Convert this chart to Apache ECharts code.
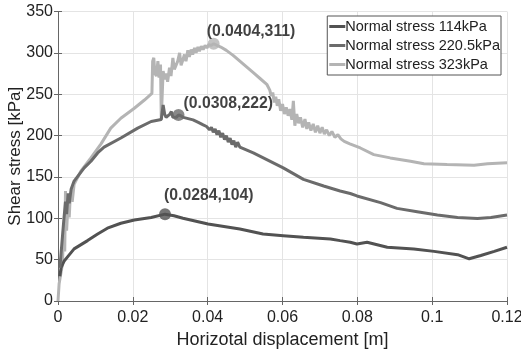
<!DOCTYPE html>
<html><head><meta charset="utf-8">
<script src="https://cdn.jsdelivr.net/npm/echarts@6/dist/echarts.min.js"></script>
<style>html,body{margin:0;padding:0;background:#fff}#c{width:521px;height:357px}</style>
</head><body><div id="c"></div>
<script>
var seriesNames = ['Normal stress 114kPa', 'Normal stress 220.5kPa', 'Normal stress 323kPa'];
var xTicks = [0, 0.02, 0.04, 0.06, 0.08, 0.1, 0.12];
var yTicks = [0, 50, 100, 150, 200, 250, 300, 350];

var x114 = [0.0005,0.0008,0.0016,0.0025,0.0043,0.0079,0.0106,0.0132,0.0168,0.0204,0.0249,0.0286,0.031,0.0334,0.0401,0.0486,0.0548,0.0602,0.0656,0.0728,0.0754,0.0781,0.0799,0.0826,0.088,0.0951,0.1005,0.1068,0.1099,0.113,0.1166,0.12];
var y114 = [30,40,48,53,63,73,81,88,94,98,101,105,103,100,93,87,81,79,77,75,73,71,69,71,65,63,60,56,51,55,60,65];

var x220 = [0.0005,0.0015,0.002,0.0023,0.0027,0.003,0.0035,0.0043,0.007,0.0088,0.0106,0.0123,0.0168,0.0213,0.0249,0.0276,0.0281,0.0285,0.0289,0.0294,0.0299,0.0303,0.0307,0.0311,0.0316,0.0322,0.0328,0.0335,0.0361,0.0375,0.0388,0.0397,0.0405,0.041,0.0415,0.042,0.0425,0.043,0.0435,0.044,0.0445,0.045,0.0455,0.046,0.0465,0.047,0.0475,0.048,0.0486,0.049,0.0522,0.0558,0.0602,0.0656,0.071,0.0754,0.0781,0.0799,0.0862,0.0906,0.096,0.1014,0.1068,0.1121,0.1157,0.12];
var y220 = [40,95,120,105,130,118,135,145,161,169,179,186,197,209,217,219.5,237,226,222,221,226,229,222,220,222,225,224,222,219,216,213,211,207,210,204,208,201,206,198,203,195,200,192,197,189,194,186,192,186,184,179,171,161,147,139,133,130,127,119,112,108,104,101,99.8,101,104];

var x323 = [0,0.0003,0.0012,0.0015,0.0018,0.002,0.0023,0.0027,0.003,0.0033,0.0038,0.0043,0.0061,0.0088,0.0115,0.0141,0.0168,0.0204,0.0231,0.0251,0.0253,0.0256,0.0259,0.0263,0.0267,0.027,0.0274,0.0276,0.0278,0.0281,0.0285,0.0289,0.0293,0.0298,0.0302,0.0307,0.0311,0.0316,0.032,0.0325,0.0329,0.0334,0.0338,0.0342,0.0347,0.0351,0.0356,0.036,0.0365,0.0369,0.0374,0.0378,0.0383,0.0388,0.0393,0.0398,0.0403,0.0409,0.0416,0.0425,0.0435,0.045,0.0468,0.0486,0.0504,0.0522,0.054,0.0558,0.0566,0.057,0.0574,0.0578,0.0582,0.0586,0.059,0.0595,0.06,0.0605,0.061,0.0615,0.062,0.0625,0.0629,0.0633,0.0638,0.0643,0.0648,0.0654,0.066,0.0665,0.067,0.0676,0.0682,0.0688,0.0694,0.07,0.0706,0.0712,0.0718,0.0725,0.0732,0.074,0.0748,0.0756,0.0765,0.078,0.0808,0.0844,0.0888,0.0942,0.0978,0.104,0.1112,0.1148,0.12];
var y323 = [0,21,45,90,60,133,85,121,101,129,120,141,157,173,190,209,221,233,243,251,290,294,275,272,290,270,286,220,222,278,268,275,265,282,272,294,280,278,290,300,285,292,298,290,303,295,304,298,306,300,307,302,308,304,309,306,310,309,311,309,307,303,297,290,283,276,269,262,255,248,252,240,247,236,244,230,238,226,234,224,232,219,242,212,226,215,222,210,220,208,216,206,214,204,212,203,210,202,207,200,205,198,201,196,193,190,185,177,173,169,166,165,164,166,167];

var peakX = [0.0286, 0.0322, 0.0416];
var peakY = [105, 225, 311];
var peakText = ['(0.0284,104)', '(0.0308,222)', '(0.0404,311)'];

var colors = ['#525252', '#6b6b6b', '#b4b4b4'];
var labelOffsets = [[-1, -19], [5, -11], [-7, -12]];
var FONT = '"Liberation Sans", Arial, sans-serif';

function zip(xs, ys) { return xs.map(function (v, i) { return [v, ys[i]]; }); }
var lineData = [zip(x114, y114), zip(x220, y220), zip(x323, y323)];

var series = [];
for (var i = 0; i < 3; i++) {
  series.push({
    name: seriesNames[i], type: 'line', data: lineData[i], showSymbol: false, symbol: 'none',
    lineStyle: { color: colors[i], width: 3 }, itemStyle: { color: colors[i] },
    animation: false, z: i === 2 ? 2 : 3
  });
}
for (var j = 0; j < 3; j++) {
  series.push({
    type: 'scatter', symbol: 'circle', symbolSize: 12, animation: false, z: 5,
    itemStyle: { color: colors[j] },
    data: [[peakX[j], peakY[j]]],
    label: {
      show: true, position: 'inside', align: 'left', verticalAlign: 'middle',
      offset: labelOffsets[j], formatter: peakText[j],
      fontFamily: FONT, fontWeight: 'bold', fontSize: 15.8, color: '#111'
    }
  });
}

var axisLineStyle = { color: '#666', width: 1 };
var option = {
  backgroundColor: '#fff',
  animation: false,
  grid: { left: 58, right: 14, top: 11.5, bottom: 56, containLabel: false, outerBoundsMode: 'none' },
  legend: {
    data: seriesNames.map(function (n, i) { return { name: n, itemStyle: { color: colors[i] } }; }),
    orient: 'vertical', right: 20, top: 16, icon: 'rect', itemWidth: 16, itemHeight: 3,
    itemGap: 4, padding: [3, 1, 3, 2], borderColor: '#555', borderWidth: 1,
    backgroundColor: '#fff', textStyle: { fontFamily: FONT, fontSize: 14.5, color: '#222', padding: [0, 0, 0, -5] }
  },
  xAxis: [{
    type: 'value', min: 0, max: 0.12, interval: 0.02,
    name: 'Horizotal displacement [m]', nameLocation: 'middle', nameGap: 30, nameMoveOverlap: false,
    nameTextStyle: { fontFamily: FONT, fontSize: 18, color: '#222' },
    axisLine: { show: true, lineStyle: axisLineStyle },
    axisTick: { show: true, inside: true, length: 4, lineStyle: axisLineStyle },
    axisLabel: { fontFamily: FONT, fontSize: 16, color: '#222', margin: 9,
      formatter: function (v) { return xTicks.indexOf(+v.toFixed(2)) >= 0 ? String(+v.toFixed(2)) : ''; } },
    splitLine: { show: true, lineStyle: { color: '#e4e4e4', width: 1 } }
  }, {
    type: 'value', min: 0, max: 0.12, interval: 0.02, position: 'top',
    axisLine: { show: true, lineStyle: axisLineStyle },
    axisTick: { show: true, inside: true, length: 4, lineStyle: axisLineStyle },
    axisLabel: { show: false }, splitLine: { show: false }
  }],
  yAxis: [{
    type: 'value', min: 0, max: 350, interval: 50,
    name: 'Shear stress [kPa]', nameLocation: 'middle', nameGap: 34, nameMoveOverlap: false,
    nameTextStyle: { fontFamily: FONT, fontSize: 17, color: '#222' },
    axisLine: { show: true, lineStyle: axisLineStyle },
    axisTick: { show: true, inside: true, length: 4, lineStyle: axisLineStyle },
    axisLabel: { fontFamily: FONT, fontSize: 16, color: '#222', margin: 5,
      formatter: function (v) { return yTicks.indexOf(v) >= 0 ? String(v) : ''; } },
    splitLine: { show: true, lineStyle: { color: '#e4e4e4', width: 1 } }
  }, {
    type: 'value', min: 0, max: 350, interval: 50, position: 'right',
    axisLine: { show: true, lineStyle: axisLineStyle },
    axisTick: { show: true, inside: true, length: 4, lineStyle: axisLineStyle },
    axisLabel: { show: false }, splitLine: { show: false }
  }],
  series: series
};
var chart = echarts.init(document.getElementById('c'), null, { renderer: 'canvas' });
chart.setOption(option);
</script>
</body></html>
